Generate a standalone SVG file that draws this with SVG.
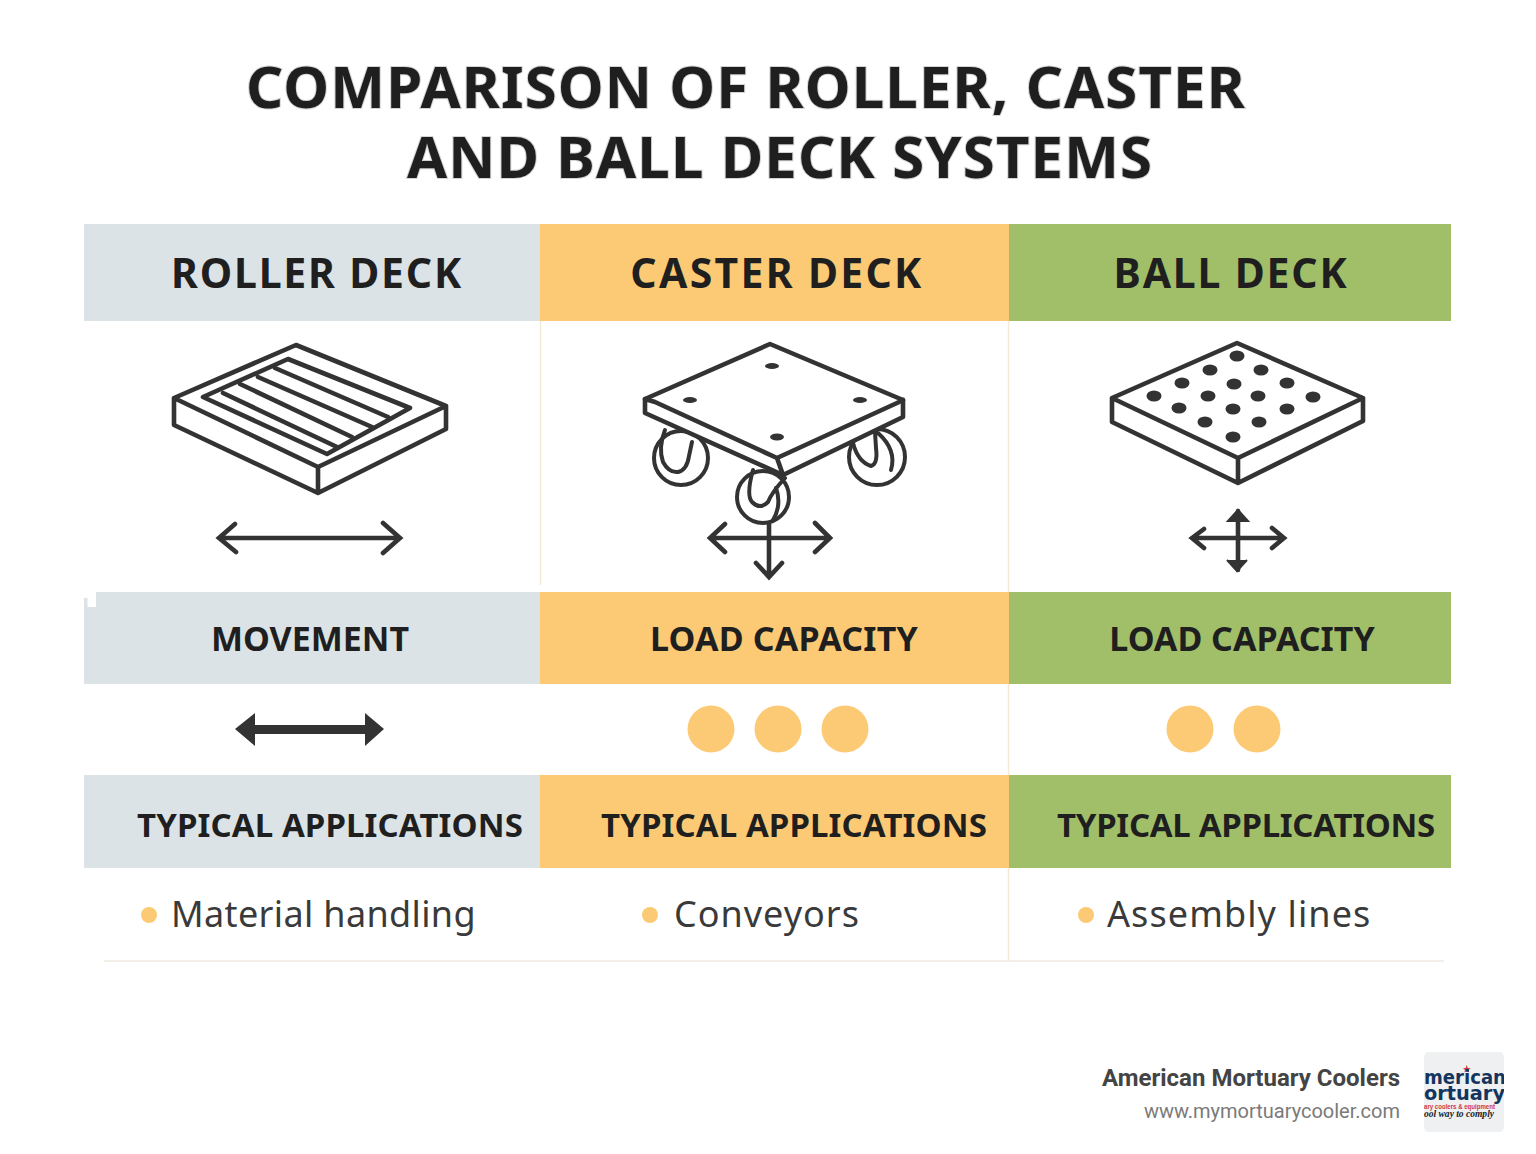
<svg xmlns="http://www.w3.org/2000/svg" width="1536" height="1154" viewBox="0 0 1536 1154">
<defs>
<style>
.t{font-family:"Noto Sans","Liberation Sans",sans-serif;font-weight:700;fill:#1f1f1f;text-anchor:middle}
.title{font-size:58px;letter-spacing:1.15px;stroke:#d4d4d4;stroke-width:2px;paint-order:stroke}
.h1{font-size:41px;letter-spacing:1.8px}
.h2{font-size:34px}
.h3{font-size:33px;letter-spacing:.1px}
.li{font-family:"Noto Sans","Liberation Sans",sans-serif;font-size:36px;fill:#3a3a3a}
.g{fill:#dce3e6}.o{fill:#fcca74}.v{fill:#a1bf69}
.ic{fill:none;stroke:#333;stroke-width:4.600;stroke-linejoin:round;stroke-linecap:round}
.w{fill:none;stroke:#333;stroke-width:4;stroke-linejoin:round;stroke-linecap:round}
.ar{fill:none;stroke:#333;stroke-width:4.600;stroke-linejoin:miter;stroke-linecap:round}
.dot{fill:#333}
.bul{fill:#fcca74}
.sep{stroke:#f3ead6;stroke-width:1.5;fill:none}
.lg{font-family:"DejaVu Sans",sans-serif;font-weight:700;font-size:19px;fill:#14365e}
</style>
<clipPath id="lc"><rect x="1424" y="1052" width="80" height="80" rx="5"/></clipPath>
</defs>
<rect width="1536" height="1154" fill="#fff"/>
<g id="title">
<text class="t title" x="746" y="108">COMPARISON OF ROLLER, CASTER</text>
<text class="t title" x="780" y="178">AND BALL DECK SYSTEMS</text>
</g>
<g id="connectors">
<path class="sep" d="M540.500 321V585M1008.500 321V592M1008.500 684V775M1008.500 868V961"/>
<path d="M104 961H1444" fill="none" stroke="#efe9df" stroke-width="1.500"/>
</g>
<g id="roller-header"><rect class="g" x="84" y="224" width="456" height="97"/><text class="t h1" x="317" y="288">ROLLER DECK</text></g>
<g id="caster-header"><rect class="o" x="540" y="224" width="469" height="97"/><text class="t h1" x="777" y="288" style="letter-spacing:2.3px">CASTER DECK</text></g>
<g id="ball-header"><rect class="v" x="1009" y="224" width="442" height="97"/><text class="t h1" x="1231" y="288">BALL DECK</text></g>
<g id="roller-icon">
<path class="ic" d="M296 345L446 406L318 467L174 398ZM174 398V425L318 493L446 429V406M318 467V493"/>
<path class="ic" d="M288 359L410 408L327 454L203 397Z"/>
<path class="ic" d="M275 368L388 417M258 377L372 427M240 384L352 437M223 393L337 447"/>
<path class="ar" d="M219 538H400M235 524L219 538L236 552M383 523L400 538L383 553"/>
</g>
<g id="caster-icon">
<circle class="w" cx="681" cy="458" r="27"/>
<path class="w" d="M665 430Q658 448 663 462Q669 473 678 472Q687 470 689 456L692 442"/>
<circle class="w" cx="877" cy="457" r="28"/>
<path class="w" d="M853 443Q858 462 871 466Q878 464 876 448L875 432M878 433Q897 450 891 470"/>
<circle class="w" cx="763" cy="497" r="26"/>
<path class="w" d="M753 470Q746 495 752 502Q760 510 768 502Q772 492 785 478M776 488Q782 505 773 520"/>
<path d="M645 399L770 344L903 400V417L783 475L645 413Z" fill="#fff" stroke="#333" stroke-width="4.600" stroke-linejoin="round"/>
<path class="ic" d="M655 402L777 458L897 403M645 399L655 402M903 400L897 403M777 458L783 475"/>
<g class="dot"><ellipse cx="772" cy="366" rx="7" ry="3"/><ellipse cx="690" cy="400" rx="7" ry="3"/><ellipse cx="860" cy="400" rx="7" ry="3"/><ellipse cx="777" cy="437" rx="7" ry="3.500"/></g>
<path class="ar" d="M710 538H830M725 524L710 538L725 552M815 523L830 538L815 552M769 524V577M756 563L769 577L782 563"/>
</g>
<g id="ball-icon">
<path class="ic" d="M1237 343L1363 398L1238 458L1112 398ZM1112 398V422L1238 483L1363 421V398M1238 458V483"/>
<g class="dot">
<ellipse cx="1237" cy="356" rx="7.500" ry="5.500"/><ellipse cx="1210" cy="370" rx="7.500" ry="5.500"/><ellipse cx="1261" cy="370" rx="7.500" ry="5.500"/><ellipse cx="1182" cy="383" rx="7.500" ry="5.500"/><ellipse cx="1234" cy="384" rx="7.500" ry="5.500"/><ellipse cx="1287" cy="383" rx="7.500" ry="5.500"/><ellipse cx="1154" cy="396" rx="7.500" ry="5.500"/><ellipse cx="1208" cy="396" rx="7.500" ry="5.500"/><ellipse cx="1258" cy="396" rx="7.500" ry="5.500"/><ellipse cx="1313" cy="397" rx="7.500" ry="5.500"/><ellipse cx="1179" cy="408" rx="7.500" ry="5.500"/><ellipse cx="1233" cy="409" rx="7.500" ry="5.500"/><ellipse cx="1287" cy="409" rx="7.500" ry="5.500"/><ellipse cx="1205" cy="422" rx="7.500" ry="5.500"/><ellipse cx="1259" cy="422" rx="7.500" ry="5.500"/><ellipse cx="1233" cy="437" rx="7.500" ry="5.500"/>
</g>
<path class="ar" d="M1192 538H1284M1204 529L1192 538L1204 548M1272 528L1284 538L1272 548M1238 511V570"/>
<path d="M1228 521L1238 510L1248 521ZM1227 560L1237 571L1247 560" fill="#333" stroke="#333" stroke-width="2"/>
</g>
<g id="roller-movement"><rect class="g" x="84" y="592" width="456" height="92"/><rect x="84" y="592" width="12" height="15" fill="#fff"/><rect x="84" y="598" width="3.500" height="86" class="g"/><text class="t h2" x="310" y="651">MOVEMENT</text></g>
<g id="caster-load"><rect class="o" x="540" y="592" width="469" height="92"/><text class="t h2" x="784" y="651" style="letter-spacing:.2px">LOAD CAPACITY</text></g>
<g id="ball-load"><rect class="v" x="1009" y="592" width="442" height="92"/><text class="t h2" x="1242" y="651">LOAD CAPACITY</text></g>
<g id="movement-arrow"><path d="M235 729L255 713V725H365V713L384 729L365 746V734H255V746Z" fill="#333"/></g>
<g id="caster-rating" class="bul"><circle cx="711" cy="729" r="23.500"/><circle cx="778" cy="729" r="23.500"/><circle cx="845" cy="729" r="23.500"/></g>
<g id="ball-rating" class="bul"><circle cx="1190" cy="729" r="23.500"/><circle cx="1257" cy="729" r="23.500"/></g>
<g id="roller-apps"><rect class="g" x="84" y="775" width="456" height="93"/><text class="t h3" x="330" y="837">TYPICAL APPLICATIONS</text></g>
<g id="caster-apps"><rect class="o" x="540" y="775" width="469" height="93"/><text class="t h3" x="794" y="837">TYPICAL APPLICATIONS</text></g>
<g id="ball-apps"><rect class="v" x="1009" y="775" width="442" height="93"/><text class="t h3" x="1246" y="837" style="letter-spacing:-.3px">TYPICAL APPLICATIONS</text></g>
<g id="roller-item"><circle class="bul" cx="149" cy="915" r="8"/><text class="li" x="171" y="927" style="letter-spacing:.35px">Material handling</text></g>
<g id="caster-item"><circle class="bul" cx="650" cy="915" r="8"/><text class="li" x="674" y="927" style="letter-spacing:1px">Conveyors</text></g>
<g id="ball-item"><circle class="bul" cx="1086" cy="915" r="8"/><text class="li" x="1107" y="927" style="letter-spacing:1.1px">Assembly lines</text></g>
<g id="footer">
<text x="1400" y="1086" text-anchor="end" font-family="Roboto,'Liberation Sans',sans-serif" font-weight="700" font-size="24" fill="#444">American Mortuary Coolers</text>
<text x="1400" y="1118" text-anchor="end" font-family="Roboto,'Liberation Sans',sans-serif" font-size="20" fill="#7a7a7a">www.mymortuarycooler.com</text>
</g>
<g id="logo" clip-path="url(#lc)">
<rect x="1424" y="1052" width="80" height="80" fill="#eef0f1"/>
<path d="M1466.700 1065L1467.800 1068L1470.500 1068.300L1468.500 1070L1469.200 1072.500L1466.700 1071L1464.300 1072.500L1465 1070L1463 1068.300L1465.600 1068Z" fill="#d2383c"/>
<text class="lg" x="1424" y="1084" textLength="82" lengthAdjust="spacingAndGlyphs">merican</text>
<text class="lg" x="1424" y="1100" textLength="81" lengthAdjust="spacingAndGlyphs">ortuary</text>
<text x="1424" y="1109" textLength="71" lengthAdjust="spacingAndGlyphs" font-family="'Liberation Sans',sans-serif" font-weight="700" font-size="7" fill="#d2383c">ary coolers &amp; equipment</text>
<text x="1424" y="1117" textLength="70" lengthAdjust="spacingAndGlyphs" font-family="'Liberation Serif',serif" font-style="italic" font-weight="700" font-size="10" fill="#222">ool way to comply</text>
</g>
</svg>
